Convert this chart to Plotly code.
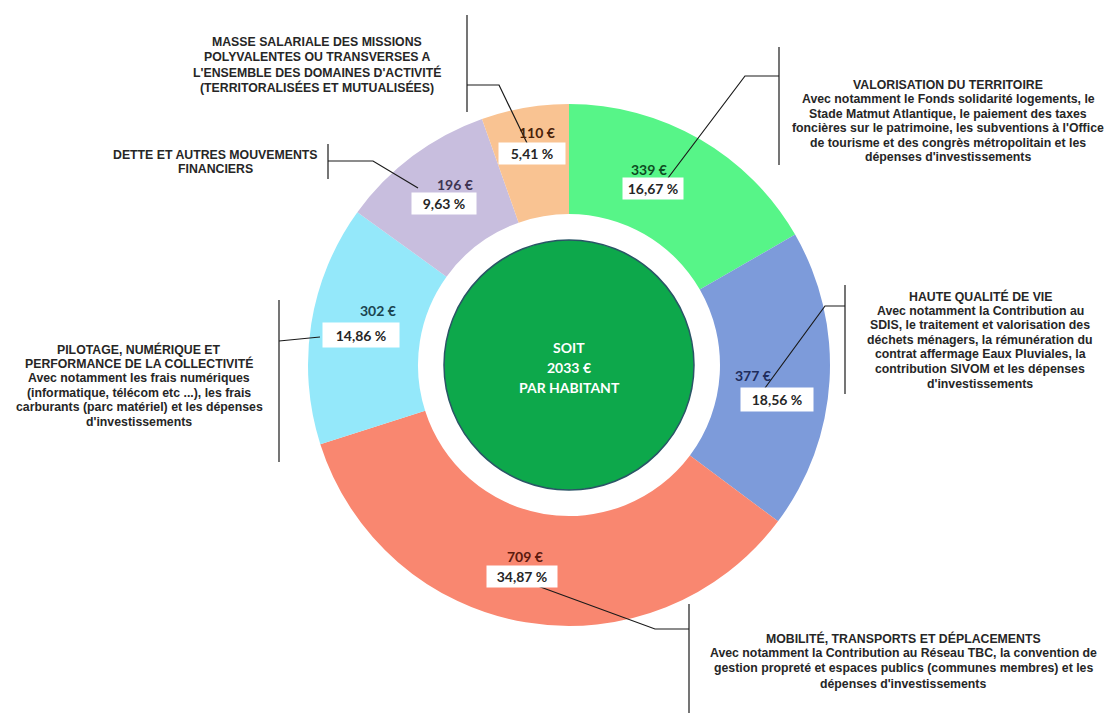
import plotly.graph_objects as go

# ---------------- data ----------------
categories = [
    "VALORISATION DU TERRITOIRE",
    "HAUTE QUALITÉ DE VIE",
    "MOBILITÉ, TRANSPORTS ET DÉPLACEMENTS",
    "PILOTAGE, NUMÉRIQUE ET PERFORMANCE DE LA COLLECTIVITÉ",
    "DETTE ET AUTRES MOUVEMENTS FINANCIERS",
    "MASSE SALARIALE DES MISSIONS POLYVALENTES OU TRANSVERSES",
]
values_eur = [339, 377, 709, 302, 196, 110]
percent_labels = ["16,67 %", "18,56 %", "34,87 %", "14,86 %", "9,63 %", "5,41 %"]
value_labels = ["339 €", "377 €", "709 €", "302 €", "196 €", "110 €"]
total_label = ["SOIT", "2033 €", "PAR HABITANT"]

descriptions = [
    ["VALORISATION DU TERRITOIRE",
     "Avec notamment le Fonds solidarité logements, le",
     "Stade Matmut Atlantique, le paiement des taxes",
     "foncières sur le patrimoine, les subventions à l'Office",
     "de tourisme et des congrès métropolitain et les",
     "dépenses d'investissements"],
    ["HAUTE QUALITÉ DE VIE",
     "Avec notamment la Contribution au",
     "SDIS, le traitement et valorisation des",
     "déchets ménagers, la rémunération du",
     "contrat affermage Eaux Pluviales, la",
     "contribution SIVOM et les dépenses",
     "d'investissements"],
    ["MOBILITÉ, TRANSPORTS ET DÉPLACEMENTS",
     "Avec notamment la Contribution au Réseau TBC, la convention de",
     "gestion propreté et espaces publics (communes membres) et les",
     "dépenses d'investissements"],
    ["PILOTAGE, NUMÉRIQUE ET",
     "PERFORMANCE DE LA COLLECTIVITÉ",
     "Avec notamment les frais numériques",
     "(informatique, télécom etc ...), les frais",
     "carburants (parc matériel) et les dépenses",
     "d'investissements"],
    ["DETTE ET AUTRES MOUVEMENTS",
     "FINANCIERS"],
    ["MASSE SALARIALE DES MISSIONS",
     "POLYVALENTES OU TRANSVERSES A",
     "L'ENSEMBLE DES DOMAINES D'ACTIVITÉ",
     "(TERRITORALISÉES ET MUTUALISÉES)"],
]

# ---------------- styles / layout ----------------
W, H = 1116, 713
slice_colors = ["#57F588", "#7D9BDA", "#F98770", "#94E8FA", "#C8BEDE", "#F9C392"]
value_colors = ["#0E4D22", "#1F2D5C", "#5C1A0E", "#1B4550", "#3E3552", "#4A220A"]
text_color = "#262626"

CX, CY, R_OUT, R_IN, R_CENTER = 569, 365, 261, 151, 125

# label placement (pixels): value text centre, percent box centre, box size
label_pos = [
    dict(v=(649, 169), b=(653, 188), bw=58, bh=19),
    dict(v=(753, 375), b=(777, 399), bw=70, bh=21),
    dict(v=(525, 556), b=(522, 576), bw=68, bh=19),
    dict(v=(378, 310), b=(361, 335), bw=74, bh=22),
    dict(v=(455, 184), b=(444, 203), bw=62, bh=19),
    dict(v=(537, 132), b=(532, 153), bw=64, bh=19),
]
# description blocks: centre x, first line y, line spacing
desc_pos = [(948, 85, 14.4), (980, 296, 14.6), (903, 638, 15.2),
            (139, 349, 14.6), (215, 155, 13.5), (317, 42, 15.0)]
leaders = [
    "M 668 178 L 745 76 L 779 76",
    "M 765 388 L 825 306 L 845 306",
    "M 535 585 L 655 629 L 689 629",
    "M 320 337 L 279 341",
    "M 418 188 L 373 161 L 328 161",
    "M 527 143 L 499 85 L 467 85",
]
brackets = [
    (779, 47, 165),
    (845, 285, 394),
    (689, 604, 713),
    (279, 300, 462),
    (328, 144, 179),
    (467, 15, 112),
]

fig = go.Figure()

fig.add_trace(go.Pie(
    values=values_eur,
    labels=categories,
    sort=False,
    direction="clockwise",
    rotation=0,
    hole=R_IN / R_OUT,
    textinfo="none",
    marker=dict(colors=slice_colors, line=dict(width=0)),
    showlegend=False,
    domain=dict(x=[(CX - R_OUT) / W, (CX + R_OUT) / W],
                y=[1 - (CY + R_OUT) / H, 1 - (CY - R_OUT) / H]),
))

# invisible pixel-space axes for decorations
fig.update_xaxes(range=[0, W], visible=False, fixedrange=True)
fig.update_yaxes(range=[H, 0], visible=False, fixedrange=True)

shapes = []
shapes.append(dict(type="circle", xref="x", yref="y",
                   x0=CX - R_CENTER, x1=CX + R_CENTER,
                   y0=CY - R_CENTER, y1=CY + R_CENTER,
                   fillcolor="#0DA84B", line=dict(color="#2A5566", width=1.5),
                   layer="above"))
for p in leaders:
    shapes.append(dict(type="path", path=p, xref="x", yref="y",
                       line=dict(color="#1a1a1a", width=1.2), layer="above"))
for (x, y0, y1) in brackets:
    shapes.append(dict(type="line", xref="x", yref="y", x0=x, x1=x, y0=y0, y1=y1,
                       line=dict(color="#1a1a1a", width=1.2), layer="above"))

annotations = []
for i in range(len(values_eur)):
    lp = label_pos[i]
    annotations.append(dict(
        x=lp["b"][0], y=lp["b"][1], xref="x", yref="y", text="<b>%s</b>" % percent_labels[i],
        showarrow=False, bgcolor="white", width=lp["bw"], height=lp["bh"],
        borderpad=1, font=dict(family="Lato", size=14, color=text_color),
        xanchor="center", yanchor="middle"))
    annotations.append(dict(
        x=lp["v"][0], y=lp["v"][1], xref="x", yref="y", text="<b>%s</b>" % value_labels[i],
        showarrow=False, font=dict(family="Lato", size=14, color=value_colors[i]),
        xanchor="center", yanchor="middle"))
    dx, dy, sp = desc_pos[i]
    for k, line in enumerate(descriptions[i]):
        annotations.append(dict(
            x=dx, y=dy + k * sp, xref="x", yref="y", text="<b>%s</b>" % line,
            showarrow=False, align="center",
            font=dict(family="Liberation Sans", size=12.3, color=text_color),
            xanchor="center", yanchor="middle"))

for k, t in enumerate(total_label):
    annotations.append(dict(
        x=CX, y=CY - 18 + 20 * k, xref="x", yref="y", text="<b>%s</b>" % t,
        showarrow=False, font=dict(family="Lato", size=14, color="white"),
        xanchor="center", yanchor="middle"))

fig.update_layout(
    width=W, height=H,
    margin=dict(l=0, r=0, t=0, b=0),
    paper_bgcolor="white", plot_bgcolor="rgba(0,0,0,0)",
    shapes=shapes, annotations=annotations,
)

fig.write_html("out.html")
